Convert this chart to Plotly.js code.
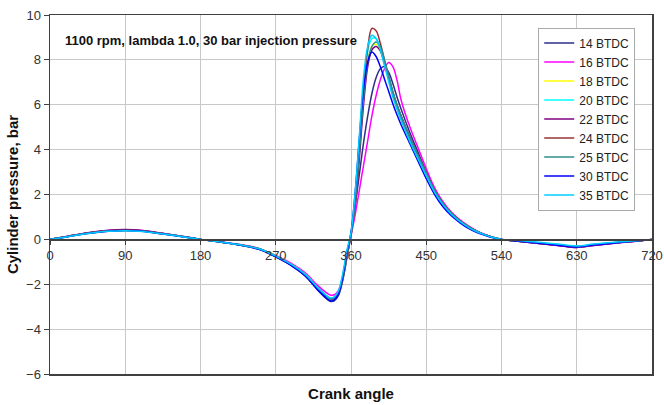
<!DOCTYPE html>
<html>
<head>
<meta charset="utf-8">
<script src="https://cdn.plot.ly/plotly-3.0.1.min.js"></script>
<style>html,body{margin:0;padding:0;background:#fff;}#chart{width:664px;height:405px;}</style>
</head>
<body>
<div id="chart"></div>
<script>
// Crank angle (degrees)
var angle = [0,20,45,70,90,110,135,160,180,200,225,250,270,290,305,320,330,335,340,345,350,355,
  360,365,370,375,380,385,390,395,400,405,410,415,420,
  430,440,450,460,470,480,490,500,510,520,530,540,
  560,585,610,630,650,675,700,720];

var seriesNames = ["14 BTDC","16 BTDC","18 BTDC","20 BTDC","22 BTDC","24 BTDC","25 BTDC","30 BTDC","35 BTDC"];

var s14 = [0,0.12,0.28,0.38,0.41,0.38,0.26,0.12,0,-0.1,-0.24,-0.44,-0.78,-1.2,-1.62,-2.25,-2.62,-2.76,-2.74,-2.5,-1.85,-0.85,
  0.25,1.5,2.9,4.3,5.5,6.5,7.2,7.6,7.7,7.45,6.95,6.35,5.8,
  4.8,3.9,3.0,2.2,1.6,1.16,0.84,0.58,0.37,0.21,0.09,0,
  -0.08,-0.18,-0.27,-0.35,-0.26,-0.16,-0.08,0];
var s16 = [0,0.13,0.29,0.4,0.43,0.39,0.26,0.12,0,-0.09,-0.22,-0.4,-0.72,-1.1,-1.48,-2.05,-2.36,-2.48,-2.47,-2.27,-1.68,-0.75,
  0.15,1.1,2.2,3.3,4.4,5.5,6.4,7.1,7.6,7.88,7.7,7.1,6.2,
  5.05,4.1,3.15,2.3,1.68,1.22,0.88,0.61,0.39,0.22,0.09,0,
  -0.08,-0.18,-0.28,-0.36,-0.27,-0.17,-0.08,0];
var s18 = [0,0.12,0.27,0.37,0.4,0.37,0.25,0.12,0,-0.1,-0.23,-0.42,-0.75,-1.15,-1.55,-2.15,-2.5,-2.62,-2.6,-2.38,-1.75,-0.75,
  0.2,1.6,3.8,6.2,7.9,8.6,8.7,8.45,7.9,7.2,6.5,5.95,5.45,
  4.55,3.75,2.93,2.15,1.57,1.15,0.83,0.57,0.36,0.2,0.08,0,
  -0.07,-0.16,-0.25,-0.32,-0.24,-0.15,-0.07,0];
var s20 = [0,0.12,0.27,0.37,0.39,0.36,0.25,0.12,0,-0.1,-0.23,-0.42,-0.75,-1.16,-1.56,-2.16,-2.5,-2.62,-2.58,-2.33,-1.62,-0.6,
  0.25,1.9,4.3,6.8,8.4,8.95,8.95,8.5,7.85,7.15,6.45,5.9,5.4,
  4.5,3.7,2.9,2.13,1.55,1.13,0.82,0.56,0.36,0.2,0.08,0,
  -0.06,-0.15,-0.24,-0.31,-0.23,-0.14,-0.06,0];
var s22 = [0,0.13,0.3,0.41,0.44,0.4,0.27,0.13,0,-0.1,-0.23,-0.42,-0.76,-1.17,-1.58,-2.18,-2.52,-2.64,-2.62,-2.4,-1.78,-0.78,
  0.2,1.5,3.6,6.0,7.7,8.45,8.6,8.4,7.9,7.25,6.55,6.0,5.5,
  4.6,3.8,2.97,2.18,1.58,1.16,0.84,0.58,0.37,0.21,0.09,0,
  -0.08,-0.18,-0.28,-0.36,-0.27,-0.17,-0.08,0];
var s24 = [0,0.12,0.28,0.38,0.41,0.38,0.25,0.12,0,-0.1,-0.23,-0.42,-0.76,-1.17,-1.58,-2.2,-2.55,-2.67,-2.65,-2.42,-1.78,-0.75,
  0.2,1.7,4.0,6.6,8.5,9.4,9.3,8.75,8.0,7.25,6.55,5.95,5.45,
  4.55,3.75,2.95,2.18,1.6,1.17,0.84,0.58,0.37,0.21,0.09,0,
  -0.07,-0.16,-0.25,-0.32,-0.24,-0.15,-0.07,0];
var s25 = [0,0.12,0.27,0.37,0.4,0.37,0.25,0.12,0,-0.1,-0.23,-0.42,-0.75,-1.16,-1.57,-2.18,-2.53,-2.65,-2.63,-2.4,-1.75,-0.72,
  0.2,1.7,3.9,6.3,7.9,8.6,8.8,8.6,8.0,7.3,6.6,6.0,5.5,
  4.58,3.77,2.96,2.18,1.6,1.17,0.84,0.58,0.37,0.21,0.09,0,
  -0.07,-0.16,-0.25,-0.33,-0.24,-0.15,-0.07,0];
var s30 = [0,0.11,0.26,0.36,0.39,0.36,0.24,0.11,0,-0.1,-0.24,-0.44,-0.78,-1.2,-1.62,-2.24,-2.6,-2.74,-2.7,-2.43,-1.7,-0.6,
  0.3,2.1,4.5,6.7,7.9,8.35,8.15,7.7,7.15,6.6,6.05,5.55,5.1,
  4.3,3.5,2.7,2.0,1.45,1.05,0.75,0.5,0.32,0.18,0.07,0,
  -0.08,-0.17,-0.27,-0.34,-0.25,-0.16,-0.07,0];
var s35 = [0,0.11,0.26,0.36,0.38,0.35,0.24,0.11,0,-0.1,-0.23,-0.42,-0.75,-1.15,-1.55,-2.14,-2.48,-2.6,-2.56,-2.3,-1.55,-0.5,
  0.3,2.1,4.6,7.2,8.6,9.1,8.95,8.45,7.75,7.05,6.35,5.8,5.3,
  4.4,3.6,2.85,2.1,1.55,1.12,0.8,0.55,0.35,0.2,0.08,0,
  -0.05,-0.13,-0.22,-0.29,-0.21,-0.13,-0.06,0];

var xTicks = [0,90,180,270,360,450,540,630,720];
var yTicks = [-6,-4,-2,0,2,4,6,8,10];

var seriesValues = [s14,s16,s18,s20,s22,s24,s25,s30,s35];
var colors = ["#2e2e8a","#ff00ff","#ffff00","#00ffff","#800080","#993333","#2f8f8f","#0000ff","#00ccff"];

var traces = seriesValues.map(function(v,i){
  return {x: angle, y: v, name: seriesNames[i], type: 'scatter', mode: 'lines',
    line: {color: colors[i], width: 1.5, shape: 'spline', smoothing: 1}};
});

var font = "Liberation Sans, Arial, sans-serif";
var layout = {
  width: 664, height: 405,
  margin: {l: 50, r: 12, t: 15, b: 31},
  paper_bgcolor: '#fff', plot_bgcolor: '#fff',
  font: {family: font, size: 13, color: '#333'},
  showlegend: true,
  legend: {x: 0.811, y: 0.965, xanchor: 'left', yanchor: 'top',
    bgcolor: '#fff', bordercolor: '#aaa', borderwidth: 1,
    font: {family: font, size: 12, color: '#222'}, itemwidth: 30, tracegroupgap: 0},
  xaxis: {range: [0,720], tickvals: xTicks, showticklabels: false, ticks: '',
    showgrid: true, gridcolor: '#c8c8c8', gridwidth: 1, zeroline: false,
    showline: true, mirror: true, linecolor: '#404040', linewidth: 1.5,
    title: {text: 'Crank angle', font: {family: font, size: 15, color: '#111', weight: 'bold'}, standoff: 14}},
  xaxis2: {overlaying: 'x', anchor: 'free', position: 0.375, range: [0,720], tickvals: xTicks,
    ticks: 'outside', ticklen: 4, tickcolor: '#404040', showgrid: false, zeroline: false,
    showline: true, linecolor: '#404040', linewidth: 1.5,
    tickfont: {family: font, size: 13, color: '#333'}},
  yaxis: {range: [-6,10], tickvals: yTicks, ticks: 'outside', ticklen: 5, tickcolor: '#404040',
    showgrid: true, gridcolor: '#c8c8c8', gridwidth: 1, zeroline: false,
    showline: true, mirror: true, linecolor: '#404040', linewidth: 1.5,
    tickfont: {family: font, size: 13, color: '#333'},
    title: {text: 'Cylinder pressure, bar', font: {family: font, size: 15, color: '#111', weight: 'bold'}, standoff: 4}},
  annotations: [{xref: 'paper', yref: 'paper', x: 0.022, y: 0.93, xanchor: 'left', yanchor: 'middle',
    text: '1100 rpm, lambda 1.0, 30 bar injection pressure', showarrow: false,
    font: {family: font, size: 13, color: '#111', weight: 'bold'}}]
};

// invisible helper trace so the zero-line axis (xaxis2) is drawn
traces.push({x: [0,720], y: [0,0], xaxis: 'x2', yaxis: 'y', mode: 'lines', line: {width: 0}, showlegend: false, hoverinfo: 'skip'});

Plotly.newPlot('chart', traces, layout, {staticPlot: true});
</script>
</body>
</html>
